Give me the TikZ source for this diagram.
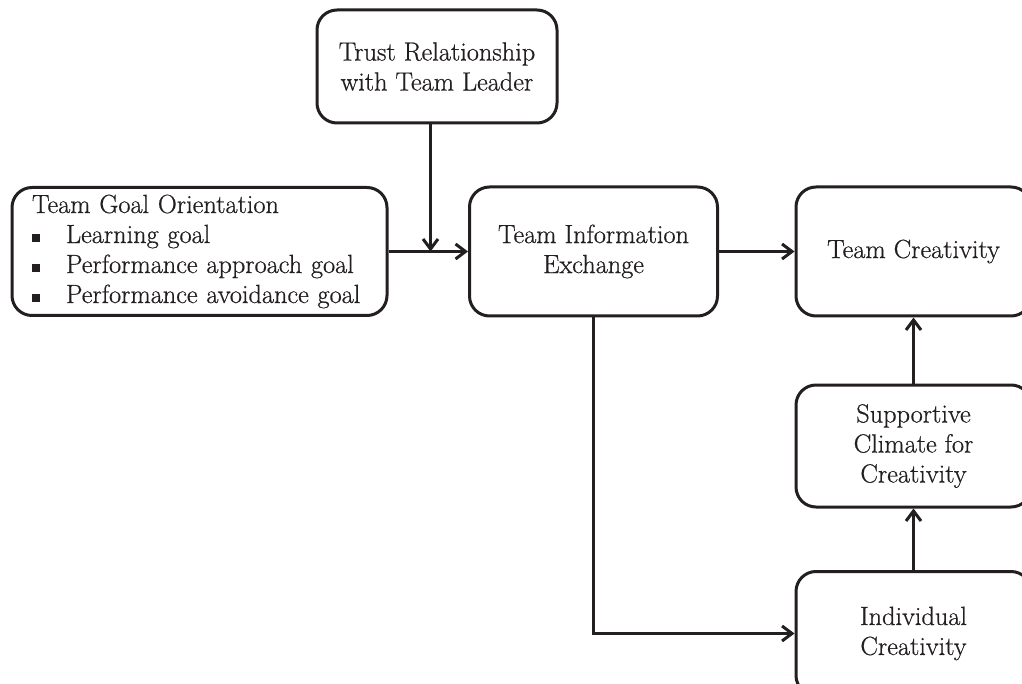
\documentclass[tikz,border=0pt]{standalone}
\usepackage{fontspec}
\setmainfont{Latin Modern Roman}[FakeBold=0.6]
\usetikzlibrary{arrows.meta}
\definecolor{ink}{HTML}{231F20}
\newcommand\bulsq{\raisebox{1pt}{\rule{8pt}{8pt}}\hspace{26pt}}
\begin{document}
\begin{tikzpicture}[x=1pt,y=-1pt,
  box/.style={draw=ink, line width=3pt, rounded corners=20pt, align=center,
    font=\fontsize{26.3}{30}\selectfont, text=ink, inner sep=0pt},
  arr/.style={draw=ink, line width=3pt, -{Straight Barb[length=10pt,width=15pt]}}]
\useasboundingbox[fill=white] (0,0) rectangle (1022,684);
\node[box, minimum width=240pt, minimum height=113pt] (trust) at (437,66.5) {Trust Relationship\\with Team Leader};
\node[box, align=left, text width=335pt, inner xsep=20pt, minimum height=128pt] (goal) at (199.5,251.5)
  {Team Goal Orientation\\ \bulsq Learning goal\\ \bulsq Performance approach goal\\ \bulsq Performance avoidance goal};
\node[box, minimum width=248pt, minimum height=129pt] (info) at (593.5,251.5) {Team Information\\Exchange};
\node[box, minimum width=235pt, minimum height=129pt] (crea) at (913.5,251.5) {Team Creativity};
\node[box, minimum width=235pt, minimum height=122pt] (supp) at (913.5,446) {Supportive\\Climate for\\Creativity};
\node[box, minimum width=235pt, minimum height=124pt] (indiv) at (913.5,633.5) {Individual\\Creativity};
\draw[arr] (goal.east) -- (info.west);
\draw[arr] ([xshift=-6.5pt]trust.south) -- ([xshift=-6.5pt]trust.south |- goal.east);
\draw[arr] (info.east) -- (crea.west);
\draw[arr] (info.south) |- (indiv.west);
\draw[arr] (supp.north) -- (crea.south);
\draw[arr] (indiv.north) -- (supp.south);
\end{tikzpicture}
\end{document}
